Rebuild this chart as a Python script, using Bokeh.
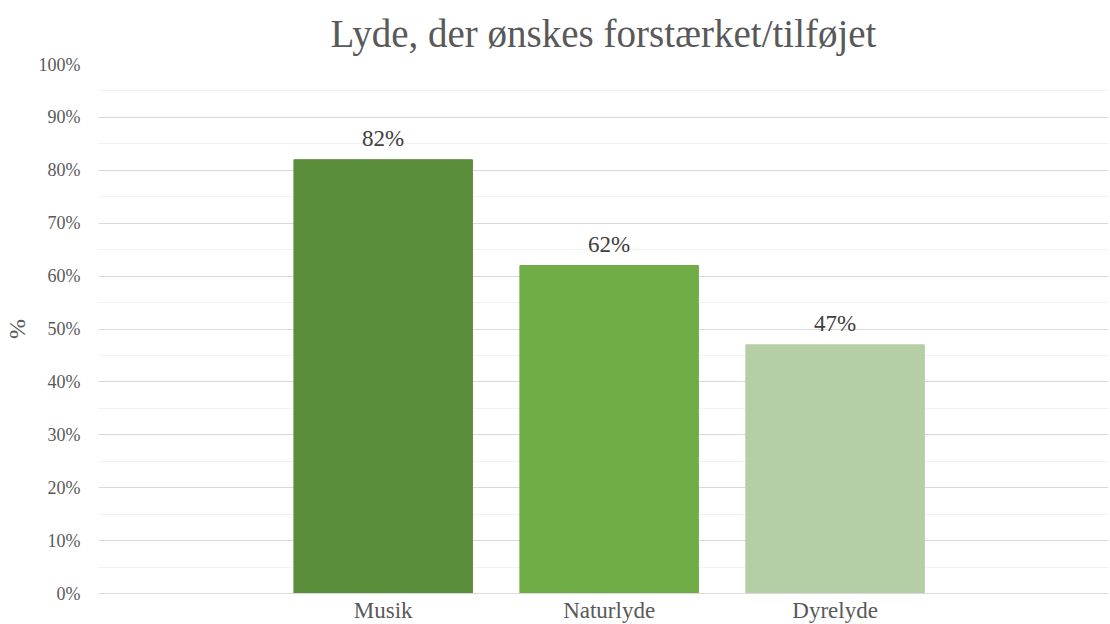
from bokeh.plotting import figure
from bokeh.models import ColumnDataSource, NumeralTickFormatter, SingleIntervalTicker, FixedTicker, Range1d
from bokeh.core.properties import value
from bokeh.embed import file_html
from bokeh.resources import INLINE

categories = ["Musik", "Naturlyde", "Dyrelyde"]
values = [0.82, 0.62, 0.47]
labels = ["82%", "62%", "47%"]
colors = ["#5B8E3A", "#70AD47", "#B4CEA6"]

FONT = "Liberation Serif"

xpos = [i + 0.5 for i in range(len(categories))]
src = ColumnDataSource(dict(x=xpos, cat=categories, val=values, lab=labels, col=colors))

p = figure(
    frame_width=1010, frame_height=529,
    x_range=Range1d(-0.76, 3.71),
    y_range=Range1d(0, 1),
    output_backend="svg", toolbar_location=None,
    title="Lyde, der ønskes forstærket/tilføjet",
)
p.min_border_left = 92
p.min_border_right = 0
p.min_border_top = 64
p.min_border_bottom = 30
p.outline_line_color = None

p.title.align = "center"
p.title.text_font = FONT
p.title.text_font_size = "39px"
p.title.text_font_style = "normal"
p.title.text_color = "#595959"
p.title.standoff = 19

p.vbar(x="x", top="val", width=0.79, color="col", source=src)
p.text(x="x", y="val", text="lab", source=src, text_align="center", text_baseline="bottom",
       y_offset=-9, text_font=value(FONT), text_font_size="23px", text_color="#404040")

p.yaxis.ticker = SingleIntervalTicker(interval=0.1, num_minor_ticks=2)
p.yaxis.formatter = NumeralTickFormatter(format="0%")
p.yaxis.axis_line_color = None
p.yaxis.major_tick_line_color = None
p.yaxis.minor_tick_line_color = None
p.yaxis.major_label_text_font = FONT
p.yaxis.major_label_text_font_size = "18px"
p.yaxis.major_label_text_color = "#595959"
p.yaxis.major_label_standoff = 12
p.yaxis.axis_label = "%"
p.yaxis.axis_label_text_font = FONT
p.yaxis.axis_label_text_font_size = "24px"
p.yaxis.axis_label_text_font_style = "normal"
p.yaxis.axis_label_text_color = "#595959"
p.yaxis.axis_label_standoff = 6

p.xaxis.ticker = FixedTicker(ticks=xpos)
p.xaxis.major_label_overrides = {x: c for x, c in zip(xpos, categories)}
p.xaxis.axis_line_color = "#D9D9D9"
p.xaxis.major_tick_line_color = None
p.xaxis.minor_tick_line_color = None
p.xaxis.major_label_text_font = FONT
p.xaxis.major_label_text_font_size = "23px"
p.xaxis.major_label_text_color = "#595959"
p.xaxis.major_label_standoff = -2

p.xgrid.grid_line_color = None
p.ygrid.grid_line_color = "#D9D9D9"
p.ygrid.minor_grid_line_color = "#F2F2F2"

open("out.html", "w").write(file_html(p, INLINE))
